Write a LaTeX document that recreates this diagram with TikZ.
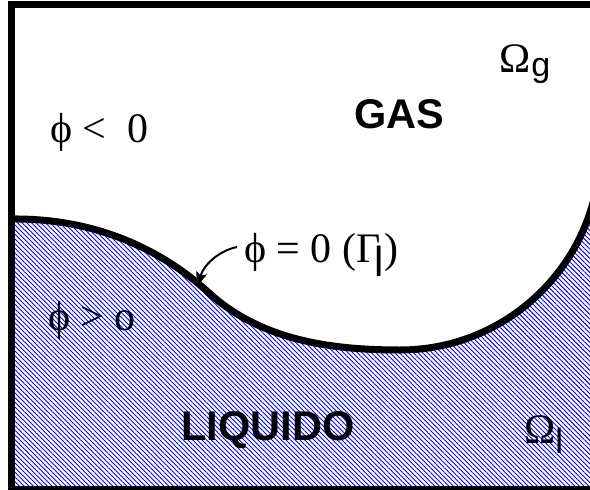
\documentclass[tikz,border=0pt]{standalone}
\usepackage{fontspec}
\setmainfont{Liberation Serif}
\setsansfont{Liberation Sans}
\usetikzlibrary{arrows.meta,patterns.meta}
\tikzset{
  greek/.style={inner sep=0pt,anchor=base west,font=\fontsize{42}{48}\selectfont},
  phase/.style={inner sep=0pt,anchor=base,font=\fontsize{41.5}{48}\selectfont\sffamily\bfseries},
  liquid/.style={pattern={Lines[angle=-45,distance=3.3pt,line width=0.9pt]},pattern color=blue}
}
\newcommand{\ph}{ϕ}

\begin{document}
\begin{tikzpicture}[x=1pt,y=-1pt,line join=round]
  \useasboundingbox (0,0) rectangle (590,490);
  % liquid region
  \fill[liquid] (11.5,219) .. controls (100,218) and (165,253) .. (208,292)
    .. controls (260,340) and (330,350) .. (400,350)
    .. controls (510.4,350) and (600,260.4) .. (600,150)
    -- (600,489.5) -- (11.5,489.5) -- cycle;
  % interface
  \draw[line width=7pt] (11.5,219) .. controls (100,218) and (165,253) .. (208,292)
    .. controls (260,340) and (330,350) .. (400,350)
    .. controls (510.4,350) and (600,260.4) .. (600,150);
  % box
  \draw[line width=6.5pt,line join=miter] (11.5,4.5) rectangle (600,489.5);
  % labels
  \node[greek] (og) at (499,72) {Ω\kern1pt\raisebox{-4pt}{\fontsize{34}{40}\selectfont\sffamily g}};
  \node[phase] (gas) at (399,128) {GAS};
  \node[greek] (neg) at (50,142) {\ph{} < \ 0};
  \node[greek] (gam) at (244,262) {\ph{} = 0 (Γ\kern-6pt\raisebox{-14pt}{\sffamily l})};
  \node[greek] (pos) at (48,330) {\ph{} > o};
  \node[phase] (liq) at (268,440) {LIQUIDO};
  \node[greek] (ol) at (524,443) {Ω\raisebox{-10pt}{\fontsize{35}{40}\selectfont\sffamily l}};
  % arrow to the interface
  \coordinate (hit) at (197,287);
  \draw[line width=2pt,-{Stealth[length=15pt,width=11pt,inset=3pt]}] ([shift={(-7,-15)}]gam.base west)
    .. controls (222,250) and (205,262) .. (hit);
\end{tikzpicture}
\end{document}
